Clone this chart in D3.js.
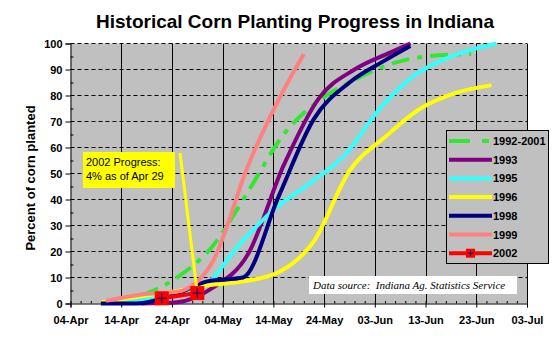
<!DOCTYPE html>
<html><head><meta charset="utf-8">
<script src="https://cdn.jsdelivr.net/npm/d3@7"></script>
<style>body{margin:0;background:#fff} svg{display:block}</style>
</head><body><svg id="c" width="555" height="345"></svg>
<script>
// ---------- data ----------
const chartTitle = "Historical Corn Planting Progress in Indiana";
const yAxisTitle = "Percent of corn planted";
const xTickLabels = ["04-Apr","14-Apr","24-Apr","04-May","14-May","24-May","03-Jun","13-Jun","23-Jun","03-Jul"];
const yTickValues = [0,10,20,30,40,50,60,70,80,90,100];
const seriesNames = ["1992-2001","1993","1995","1996","1998","1999","2002"];

const dates1992_2001 = ["04-18","04-25","05-02","05-09","05-16","05-23","05-30","06-06","06-13","06-22"];
const values1992_2001 = [3,10,22,43,65,78,86,92,95,96];

const dates1993 = ["04-18","04-25","05-02","05-09","05-16","05-23","05-30","06-06","06-10"];
const values1993 = [0,0.5,6,19,53,79,90,96.5,100];

const dates1995 = ["04-10","04-17","04-24","04-30","05-07","05-14","05-21","05-28","06-04","06-11","06-18","06-27"];
const values1995 = [0.5,1.5,3,6,22,36,46,57,75,88,95,100];

const dates1996 = ["04-10","04-17","04-24","05-01","05-08","05-15","05-22","05-29","06-05","06-12","06-19","06-26"];
const values1996 = [0.5,2.5,4.5,7,8.5,12,24,51,64,75,81,84];

const dates1998 = ["04-10","04-17","04-24","05-01","05-08","05-15","05-22","05-29","06-05","06-10"];
const values1998 = [0,0,3,8.5,10,41,71,85,93.5,99];

const dates1999 = ["04-11","04-18","04-25","05-02","05-09","05-16","05-20"];
const values1999 = [1,3.5,4.5,16,53,82,96];

const dates2002 = ["04-22","04-29"];
const values2002 = [2,4];

const annotationLines = ["2002 Progress:","4% as of Apr 29"];
const sourceNote = "Data source:  Indiana Ag. Statistics Service";

// ---------- setup ----------
const svg = d3.select("#c");
const parseMD = d3.timeParse("%Y-%m-%d");
const toDate = s => parseMD("2002-" + s);
const parseTick = d3.timeParse("%d-%b-%Y");
const xTickDates = xTickLabels.map(l => parseTick(l + "-2002"));

const L = 70.5, R = 527, T = 43.5, B = 303.5;
const x = d3.scaleTime().domain([xTickDates[0], xTickDates[xTickDates.length-1]]).range([L, R]);
const y = d3.scaleLinear().domain([0,100]).range([B, T]);

const series = [
  {name: seriesNames[0], dates: dates1992_2001, values: values1992_2001, color: "#33e633", dash: "18,8,5,8"},
  {name: seriesNames[1], dates: dates1993, values: values1993, color: "#800080"},
  {name: seriesNames[2], dates: dates1995, values: values1995, color: "#33ffff"},
  {name: seriesNames[3], dates: dates1996, values: values1996, color: "#ffff00"},
  {name: seriesNames[4], dates: dates1998, values: values1998, color: "#000080"},
  {name: seriesNames[5], dates: dates1999, values: values1999, color: "#ff8080"},
  {name: seriesNames[6], dates: dates2002, values: values2002, color: "#ff0000", marker: true}
];

// plot background
svg.append("rect").attr("x", L).attr("y", T).attr("width", R - L).attr("height", B - T).attr("fill", "#c0c0c0");

// gridlines
svg.append("g").selectAll("line").data(yTickValues.filter(v => v > 0)).join("line")
  .attr("x1", L).attr("x2", R).attr("y1", d => y(d)).attr("y2", d => y(d))
  .attr("stroke", "#000").attr("stroke-width", 1).attr("stroke-dasharray", "4,3");
svg.append("g").selectAll("line").data(xTickDates.slice(1)).join("line")
  .attr("x1", d => Math.round(x(d)) + 0.5).attr("x2", d => Math.round(x(d)) + 0.5).attr("y1", T).attr("y2", B)
  .attr("stroke", "#000").attr("stroke-width", 1);

// axes
const fontSans = "Arial, 'Liberation Sans', sans-serif";
const xAxis = svg.append("g").attr("transform", `translate(0,${B})`)
  .call(d3.axisBottom(x).tickValues(xTickDates).tickFormat((d, i) => xTickLabels[i]).tickSize(4).tickPadding(9));
const minorX = d3.range(0, 91, 2).map(k => d3.timeDay.offset(xTickDates[0], k));
svg.append("g").attr("transform", `translate(0,${B})`)
  .call(d3.axisBottom(x).tickValues(minorX).tickFormat("").tickSize(-2.5))
  .call(g => g.select(".domain").remove());
const yAxis = svg.append("g").attr("transform", `translate(${L},0)`)
  .call(d3.axisLeft(y).tickValues(yTickValues).tickSize(5).tickPadding(3));
svg.append("g").attr("transform", `translate(${L},0)`)
  .call(d3.axisLeft(y).tickValues(d3.range(5, 100, 10)).tickFormat("").tickSize(-3))
  .call(g => g.select(".domain").remove());
svg.selectAll(".domain").attr("stroke", "#000");
svg.selectAll(".tick line").attr("stroke", "#000");
[xAxis, yAxis].forEach(g => g.selectAll("text").attr("font-family", fontSans).attr("font-weight", "bold")
  .attr("font-size", 11).attr("fill", "#000"));

// series lines
const line = d3.line().x(d => x(d.date)).y(d => y(d.value)).curve(d3.curveMonotoneX);
series.forEach(s => {
  s.points = s.dates.map((dt, i) => ({date: toDate(dt), value: s.values[i]}));
});

// annotation pointer (under 2002 series)
const p2002 = series[6].points[1];
series.forEach(s => {
  if (s.marker) {
    svg.append("line").attr("x1", 180).attr("y1", 153).attr("x2", x(p2002.date)).attr("y2", y(p2002.value))
      .attr("stroke", "#ffff00").attr("stroke-width", 3);
  }
  svg.append("path").datum(s.points).attr("d", line).attr("fill", "none")
    .attr("stroke", s.color).attr("stroke-width", 4).attr("stroke-dasharray", s.dash || null)
    .attr("stroke-linejoin", "round");
  if (s.marker) {
    const m = svg.append("g").selectAll("g").data(s.points).join("g")
      .attr("transform", d => `translate(${x(d.date)},${y(d.value)})`);
    m.append("rect").attr("x", -7).attr("y", -7).attr("width", 14).attr("height", 14).attr("fill", "#ff0000");
    m.append("path").attr("d", "M-5,0H5M0,-5V5").attr("stroke", "#000060").attr("stroke-width", 1);
  }
});

// annotation box
svg.append("rect").attr("x", 83).attr("y", 152).attr("width", 92).attr("height", 36).attr("fill", "#ffff00");
svg.append("g").selectAll("text").data(annotationLines).join("text")
  .attr("x", 86).attr("y", (d, i) => 166 + i * 14).text(d => d)
  .attr("font-family", fontSans).attr("font-size", 11).attr("fill", "#000");

// source box
svg.append("rect").attr("x", 309).attr("y", 276).attr("width", 208).attr("height", 18).attr("fill", "#fff");
svg.append("text").attr("x", 313).attr("y", 289).text(sourceNote)
  .attr("font-family", "'Times New Roman', 'Liberation Serif', serif").attr("font-style", "italic")
  .attr("font-size", 11).attr("fill", "#000").style("white-space", "pre");

// legend
const lg = svg.append("g");
lg.append("rect").attr("x", 446.5).attr("y", 130.5).attr("width", 102).attr("height", 133)
  .attr("fill", "#c0c0c0").attr("stroke", "#000").attr("stroke-width", 1);
series.forEach((s, i) => {
  const yy = 141 + i * 18.7;
  lg.append("line").attr("x1", 449).attr("x2", 492).attr("y1", yy).attr("y2", yy)
    .attr("stroke", s.color).attr("stroke-width", 4).attr("stroke-dasharray", s.dash ? "21,12,7,20" : null);
  if (s.marker) {
    lg.append("rect").attr("x", 466).attr("y", yy - 4.5).attr("width", 9).attr("height", 9).attr("fill", "#ff0000");
    lg.append("path").attr("d", `M${467.5},${yy}H${473.5}M${470.5},${yy-3}V${yy+3}`).attr("stroke", "#000060");
  }
  lg.append("text").attr("x", 493).attr("y", yy + 4).text(s.name)
    .attr("font-family", fontSans).attr("font-weight", "bold").attr("font-size", 11).attr("fill", "#000");
});

// titles
svg.append("text").attr("x", 295).attr("y", 28).attr("text-anchor", "middle").text(chartTitle)
  .attr("font-family", fontSans).attr("font-weight", "bold").attr("font-size", 19).attr("fill", "#000");
svg.append("text").attr("transform", "translate(35,178) rotate(-90)").attr("text-anchor", "middle").text(yAxisTitle)
  .attr("font-family", fontSans).attr("font-weight", "bold").attr("font-size", 13).attr("fill", "#000");
</script></body></html>
